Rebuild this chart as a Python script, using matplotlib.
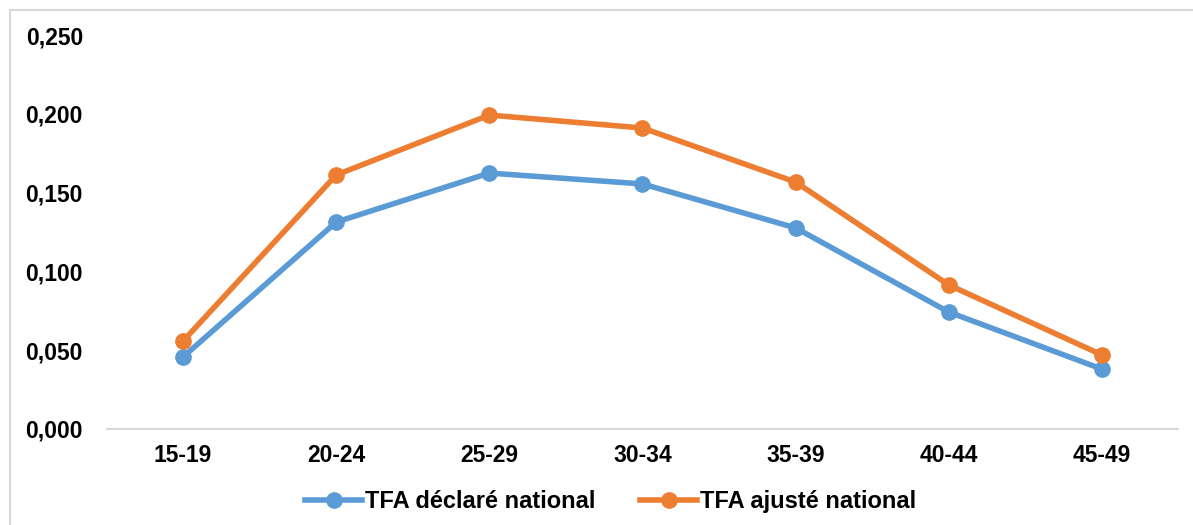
import matplotlib.pyplot as plt
from matplotlib.patches import Rectangle
from matplotlib.ticker import FuncFormatter

# Groupes d'age et taux de fecondite par age
age_groups = ['15-19', '20-24', '25-29', '30-34', '35-39', '40-44', '45-49']
tfa_declare = [0.0457, 0.1313, 0.1624, 0.1555, 0.1276, 0.0742, 0.0380]
tfa_ajuste = [0.0558, 0.1612, 0.1992, 0.1910, 0.1567, 0.0914, 0.0470]

blue = '#5B9BD5'
orange = '#ED7D31'

plt.rcParams['font.family'] = ['Liberation Sans', 'DejaVu Sans']

fig = plt.figure(figsize=(11.93, 5.25), dpi=100)
ax = fig.add_axes([0.0893, 0.1829, 0.8985, 0.7504])

x = range(len(age_groups))
ax.plot(x, tfa_declare, color=blue, lw=4, marker='o', ms=11, label='TFA déclaré national')
ax.plot(x, tfa_ajuste, color=orange, lw=4, marker='o', ms=11, label='TFA ajusté national')

ax.set_xlim(-0.5, len(age_groups) - 0.5)
ax.set_ylim(0, 0.25)
ax.set_yticks([0, 0.05, 0.10, 0.15, 0.20, 0.25])
ax.yaxis.set_major_formatter(FuncFormatter(lambda v, p: f'{v:.3f}'.replace('.', ',')))
ax.set_xticks(list(x))
ax.set_xticklabels(age_groups)

for side in ['top', 'right', 'left']:
    ax.spines[side].set_visible(False)
ax.spines['bottom'].set_color('#D9D9D9')
ax.spines['bottom'].set_linewidth(1.5)
ax.tick_params(axis='both', length=0, labelsize=16.5)
ax.tick_params(axis='y', pad=17)
ax.tick_params(axis='x', pad=11)
for lbl in ax.get_xticklabels() + ax.get_yticklabels():
    lbl.set_fontweight('bold')

fig.legend(loc='center', bbox_to_anchor=(0.512, 0.044), ncol=2, frameon=False,
           prop={'size': 17, 'weight': 'bold'}, handlelength=2.4,
           handletextpad=0.13, columnspacing=1.9)

# cadre gris autour du graphique
fig.patches.append(Rectangle((0.0084, -0.05), 1.1, 1.031, transform=fig.transFigure,
                             fill=False, edgecolor='#D9D9D9', lw=1.5))

plt.savefig('out.png', dpi=100)
